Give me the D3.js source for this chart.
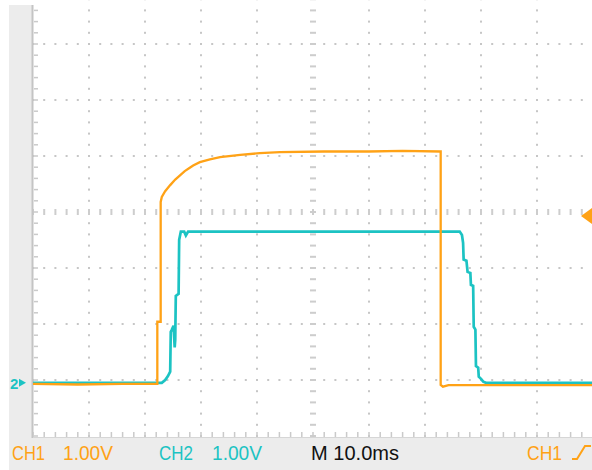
<!DOCTYPE html>
<html>
<head>
<meta charset="utf-8">
<script src="https://cdn.jsdelivr.net/npm/d3@7"></script>
<style>
  html, body { margin: 0; padding: 0; background: #fff; }
  svg { display: block; }
  text { font-family: "Liberation Sans", Arial, sans-serif; }
</style>
</head>
<body>
<div id="chart"></div>
<script>
// CH1 (orange) - time in ms, volts
var ch1Time  = [0, 8, 16, 22.2, 22.2, 22.8, 22.8, 23.0, 23.6, 24.5, 25.4, 26.3, 27.1, 28.0, 28.6, 29.8, 31.6, 33.4, 37.0, 40.5, 44.1, 52, 60, 66, 72.7, 72.8, 72.8, 73.2, 74.2, 86, 100];
var ch1Volts = [-0.02, -0.03, -0.02, -0.02, 1.09, 1.09, 3.23, 3.32, 3.42, 3.53, 3.63, 3.71, 3.78, 3.84, 3.88, 3.94, 3.99, 4.03, 4.07, 4.10, 4.12, 4.13, 4.13, 4.14, 4.13, 4.13, -0.04, -0.07, -0.04, -0.04, -0.04];

// CH2 (cyan)
var ch2Time  = [0, 23.0, 23.6, 24.1, 24.5, 24.6, 24.8, 25.1, 25.3, 25.4, 25.5, 26.0, 26.1, 26.4, 27.0, 27.3, 27.7, 50, 76.2, 76.6, 76.8, 76.9, 77.4, 77.6, 78.1, 78.2, 78.6, 78.7, 79.0, 79.1, 79.5, 79.6, 80.0, 80.4, 80.9, 100];
var ch2Volts = [0, 0, 0.05, 0.12, 0.2, 0.91, 0.95, 1.02, 0.63, 0.77, 1.55, 1.59, 2.55, 2.70, 2.70, 2.63, 2.70, 2.70, 2.70, 2.64, 2.50, 2.20, 2.18, 1.98, 1.96, 1.75, 1.73, 1.00, 0.95, 0.30, 0.27, 0.11, 0.07, 0.02, 0, 0];

// readout labels
var ch1Label = ["CH1", "1.00V"];
var ch2Label = ["CH2", "1.00V"];
var timeLabel = "M 10.0ms";
var trigLabel = "CH1";
var groundOffsetDiv = -3.05;   // both grounds sit here
var trigLevelVolts = 2.98;

var width = 592, height = 470;
var orange = "#ffa216", cyan = "#1cc3c3", gridColor = "#c6c6c6";

var svg = d3.select("#chart").append("svg")
    .attr("width", width)
    .attr("height", height);

// 10 x 8 divisions, top row is cropped off
var x = d3.scaleLinear().domain([0, 100]).range([33, 593]);
var y = d3.scaleLinear().domain([-4, 4]).range([436, -12]);
var vy = function (v) { return y(groundOffsetDiv + v / 1.0); };

// gray frame
svg.append("rect").attr("x", 9).attr("y", 5).attr("width", 24).attr("height", height - 5).attr("fill", "#ececec");
svg.append("rect").attr("x", 9).attr("y", 438).attr("width", width - 9).attr("height", 32).attr("fill", "#ececec");

var grid = svg.append("g");
var minor = d3.range(0, 101, 2);      // 1/5 div in ms
var minorY = d3.range(-4, 4.01, 0.2);

// dotted gridlines
d3.range(10, 100, 10).filter(function (t) { return t !== 50; }).forEach(function (t) {
    grid.selectAll(null).data(minorY).enter().append("rect")
        .attr("x", x(t) - 1).attr("y", function (d) { return y(d) - 1; })
        .attr("width", 2).attr("height", 2).attr("fill", gridColor);
});
d3.range(-3, 4, 1).filter(function (d) { return d !== 0; }).forEach(function (v) {
    grid.selectAll(null).data(minor).enter().append("rect")
        .attr("x", function (d) { return x(d) - 1; }).attr("y", y(v) - 1)
        .attr("width", 2).attr("height", 2).attr("fill", gridColor);
});

// center cross with dashes
grid.selectAll(null).data(minorY).enter().append("rect")
    .attr("x", x(50) - 3).attr("y", function (d) { return y(d) - 1; })
    .attr("width", 6).attr("height", 2).attr("fill", "#cdcdcd");
grid.selectAll(null).data(minor).enter().append("rect")
    .attr("x", function (d) { return x(d) - 1; }).attr("y", y(0) - 3)
    .attr("width", 2).attr("height", 6).attr("fill", "#cdcdcd");

// left axis + ticks
svg.append("line").attr("x1", 32.5).attr("x2", 32.5).attr("y1", 5).attr("y2", 438)
    .attr("stroke", "#c4c4c4").attr("stroke-width", 2);
grid.selectAll(null).data(minorY).enter().append("rect")
    .attr("x", 34).attr("y", function (d) { return y(d) - 0.75; })
    .attr("width", 4).attr("height", 1.5).attr("fill", "#cacaca");

// bottom axis ticks
svg.append("line").attr("x1", 33).attr("x2", width).attr("y1", 437.5).attr("y2", 437.5)
    .attr("stroke", "#d6d6d6").attr("stroke-width", 1);
grid.selectAll(null).data(minor).enter().append("rect")
    .attr("x", function (d) { return x(d) - 0.75; }).attr("y", 432)
    .attr("width", 1.5).attr("height", 5).attr("fill", "#cacaca");

// traces
var line = d3.line()
    .x(function (d) { return x(d[0]); })
    .y(function (d) { return vy(d[1]); });

svg.append("path")
    .datum(d3.zip(ch2Time, ch2Volts))
    .attr("d", line)
    .attr("fill", "none")
    .attr("stroke", cyan)
    .attr("stroke-width", 2.7);

svg.append("path")
    .datum(d3.zip(ch1Time, ch1Volts))
    .attr("d", line)
    .attr("fill", "none")
    .attr("stroke", orange)
    .attr("stroke-width", 2.3);

// ground marker for CH2
svg.append("text").attr("x", 10).attr("y", vy(0) + 6)
    .attr("font-size", 15).attr("font-weight", "bold").attr("fill", cyan).text("2");
svg.append("path")
    .attr("d", "M19," + (vy(0) - 4) + " L26," + vy(0) + " L19," + (vy(0) + 4) + " Z")
    .attr("fill", cyan);

// trigger level marker
var ty = vy(trigLevelVolts);
svg.append("path")
    .attr("d", "M581," + ty + " L592," + (ty - 8) + " L592," + (ty + 8) + " Z")
    .attr("fill", orange);

// readouts
var ro = svg.append("g").attr("font-size", 21);
function label(txt, x0, w, col) {
    ro.append("text").attr("x", x0).attr("y", 460)
        .attr("textLength", w).attr("lengthAdjust", "spacingAndGlyphs")
        .attr("fill", col).text(txt);
}
label(ch1Label[0], 12, 33, orange);
label(ch1Label[1], 63, 50, orange);
label(ch2Label[0], 159, 34, cyan);
label(ch2Label[1], 212, 50, cyan);
label(timeLabel, 311, 88, "#111");
label(trigLabel, 527, 35, orange);

// rising edge symbol
svg.append("path")
    .attr("d", "M572,459 H577 L585,446 H591")
    .attr("fill", "none")
    .attr("stroke", orange)
    .attr("stroke-width", 2);
</script>
</body>
</html>
